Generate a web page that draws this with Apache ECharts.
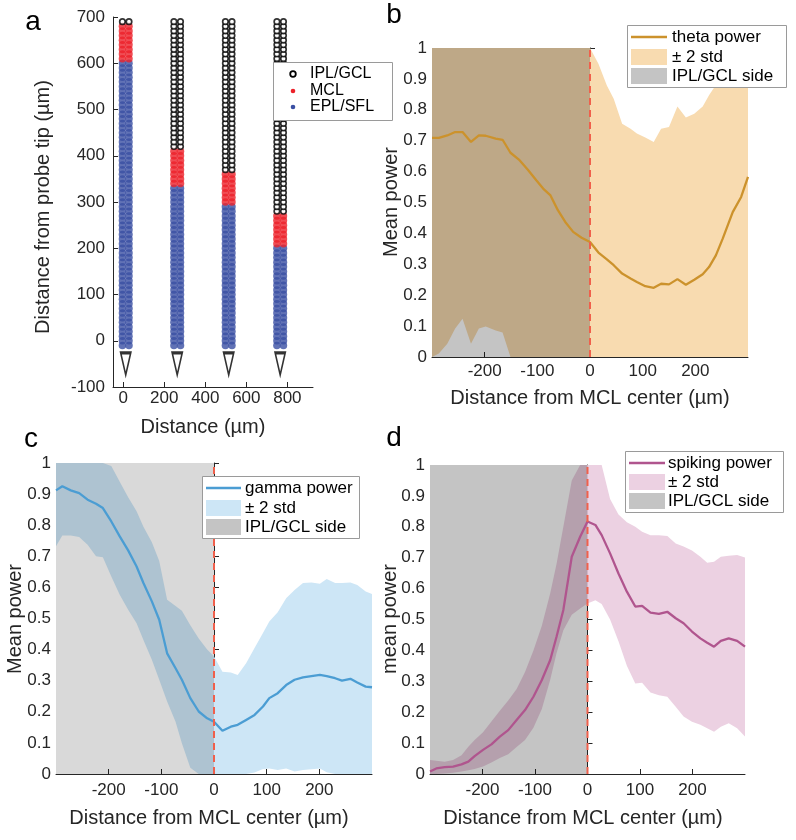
<!DOCTYPE html>
<html><head><meta charset="utf-8">
<script src="https://cdn.jsdelivr.net/npm/echarts@6/dist/echarts.min.js"></script>
<style>html,body{margin:0;padding:0;background:#fff}#c{width:796px;height:840px}</style>
</head><body><div id="c"></div><script>
const FONT = "'Liberation Sans', Arial, Helvetica, sans-serif";
const AX = '#262626';

// ---------- Panel a : probe layout ----------
const probeCenters = [12, 263, 514, 765];
const siteColumnOffsets = [-16, 16];
const siteDepths = [-10,0,10,20,30,40,50,60,70,80,90,100,110,120,130,140,150,160,170,180,190,200,210,220,230,240,250,260,270,280,290,300,310,320,330,340,350,360,370,380,390,400,410,420,430,440,450,460,470,480,490,500,510,520,530,540,550,560,570,580,590,600,610,620,630,640,650,660,670,680,690];
const mclLower = [610, 340, 300, 210];
const mclUpper = [680, 410, 360, 270];
const tipDepth = -50;
const aXTicks = [0, 200, 400, 600, 800];

// ---------- Panel b : theta ----------
const thetaX = [-300,-287,-271,-256,-242,-226,-211,-198,-179,-166,-151,-135,-118,-102,-89,-75,-61,-47,-32,-16,0,16,32,45,61,77,89,105,121,135,150,166,182,198,214,226,239,252,271,287,300];
const thetaMean = [0.709,0.709,0.717,0.728,0.728,0.696,0.717,0.716,0.707,0.703,0.661,0.639,0.606,0.572,0.545,0.523,0.475,0.437,0.405,0.386,0.372,0.338,0.316,0.297,0.270,0.254,0.243,0.229,0.224,0.237,0.235,0.252,0.234,0.250,0.268,0.291,0.329,0.383,0.469,0.518,0.583];
const thetaUpper = [1,1,1,1,1,1,1,1,1,1,1,1,1,1,1,1,1,1,1,1,1,0.949,0.879,0.836,0.755,0.739,0.723,0.710,0.696,0.739,0.744,0.811,0.775,0.787,0.811,0.847,0.88,0.95,1,1,1];
const thetaLower = [0,0.011,0.043,0.092,0.124,0.043,0.092,0.099,0.086,0.079,0,0,0,0,0,0,0,0,0,0,0,0,0,0,0,0,0,0,0,0,0,0,0,0,0,0,0,0,0,0,0];

// ---------- Panel c : gamma ----------
const gammaX = [-300,-288,-272,-256,-240,-224,-211,-195,-179,-163,-147,-134,-118,-104,-89,-73,-61,-45,-29,-13,0,16,32,45,61,77,93,105,121,137,153,169,185,201,214,230,243,259,272,288,300];
const gammaMean = [0.912,0.925,0.912,0.903,0.882,0.869,0.855,0.812,0.764,0.719,0.667,0.614,0.555,0.496,0.388,0.340,0.303,0.244,0.201,0.179,0.168,0.139,0.152,0.158,0.174,0.190,0.217,0.244,0.260,0.286,0.303,0.311,0.315,0.319,0.315,0.308,0.300,0.306,0.294,0.281,0.279];
const gammaUpper = [1,1,1,1,1,1,1,0.99,0.94,0.89,0.845,0.795,0.745,0.685,0.56,0.54,0.525,0.478,0.436,0.40,0.378,0.329,0.326,0.318,0.356,0.405,0.453,0.49,0.52,0.565,0.592,0.614,0.616,0.612,0.627,0.614,0.614,0.616,0.608,0.587,0.579];
const gammaLower = [0.732,0.767,0.767,0.762,0.737,0.70,0.697,0.635,0.576,0.528,0.485,0.431,0.367,0.303,0.233,0.168,0.099,0.02,0,0,0,0,0,0,0,0.005,0.016,0.018,0.013,0.018,0.008,0.013,0.015,0.018,0.006,0,0,0,0,0,0];

// ---------- Panel d : spiking ----------
const spikeX = [-300,-288,-272,-256,-240,-227,-215,-199,-183,-167,-151,-135,-119,-103,-87,-71,-59,-46,-30,-14,0,15,27,43,59,75,91,104,120,136,152,168,183,199,215,228,241,254,269,285,300];
const spikeMean = [0.008,0.018,0.022,0.024,0.031,0.040,0.058,0.078,0.096,0.121,0.142,0.175,0.207,0.250,0.304,0.369,0.444,0.531,0.703,0.768,0.817,0.806,0.773,0.714,0.649,0.590,0.542,0.544,0.522,0.518,0.525,0.504,0.488,0.461,0.439,0.425,0.412,0.431,0.439,0.431,0.412];
const spikeUpper = [0.045,0.043,0.040,0.045,0.061,0.088,0.11,0.135,0.17,0.205,0.238,0.275,0.33,0.40,0.48,0.585,0.68,0.80,0.95,1,1,1,1,0.89,0.84,0.815,0.80,0.784,0.773,0.773,0.77,0.746,0.736,0.723,0.703,0.684,0.687,0.703,0.706,0.709,0.701];
const spikeLower = [0,0,0.002,0.004,0.008,0.012,0.016,0.024,0.037,0.052,0.064,0.087,0.11,0.15,0.21,0.305,0.391,0.465,0.515,0.536,0.552,0.562,0.55,0.5,0.43,0.35,0.293,0.295,0.264,0.255,0.25,0.218,0.186,0.169,0.159,0.148,0.137,0.153,0.164,0.148,0.121];

const iplSide = [-300, 0];
const mclCenter = 0;
const distTicks = [-200, -100, 0, 100, 200];

// ---------- build ----------
const chart = echarts.init(document.getElementById('c'), null, {renderer: 'canvas', width: 796, height: 840});

const grids = [
  {left: 113, top: 17, width: 200, height: 370},
  {left: 432, top: 48, width: 316, height: 309},
  {left: 56, top: 463, width: 316, height: 311},
  {left: 430, top: 465, width: 315, height: 309}
];

function yAxisPow(gi) {
  return {gridIndex: gi, type: 'value', min: 0, max: 1, interval: 0.1,
    axisLine: {show: true, lineStyle: {color: AX, width: 1}},
    axisTick: {show: true, inside: true, length: 5, lineStyle: {color: AX}},
    splitLine: {show: false},
    axisLabel: {color: AX, fontFamily: FONT, fontSize: 17, margin: 5,
      formatter: v => String(+(+v).toFixed(1))}};
}
function xAxisDist(gi, margin) {
  return {gridIndex: gi, type: 'value', min: -300, max: 300,
    axisLine: {show: true, onZero: false, lineStyle: {color: AX, width: 1}},
    axisTick: {show: true, inside: true, length: 5, customValues: distTicks, lineStyle: {color: AX}},
    splitLine: {show: false},
    axisLabel: {color: AX, fontFamily: FONT, fontSize: 17, margin: margin, customValues: distTicks}};
}

const xAxes = [
  {gridIndex: 0, type: 'value', min: -50, max: 925,
    axisLine: {show: true, onZero: false, lineStyle: {color: AX, width: 1}},
    axisTick: {show: true, inside: true, length: 5, customValues: aXTicks, lineStyle: {color: AX}},
    splitLine: {show: false},
    axisLabel: {color: AX, fontFamily: FONT, fontSize: 17, margin: 3, customValues: aXTicks}},
  xAxisDist(1, 6), xAxisDist(2, 8), xAxisDist(3, 8)
];
const yAxes = [
  {gridIndex: 0, type: 'value', min: -100, max: 700, interval: 100,
    axisLine: {show: true, onZero: false, lineStyle: {color: AX, width: 1}},
    axisTick: {show: true, inside: true, length: 5, lineStyle: {color: AX}},
    splitLine: {show: false},
    axisLabel: {color: AX, fontFamily: FONT, fontSize: 17, margin: 8}},
  yAxisPow(1), yAxisPow(2), yAxisPow(3)
];

// probe sites
const iplPts = [], mclPts = [], eplPts = [];
probeCenters.forEach((cx, p) => {
  siteDepths.forEach(d => {
    siteColumnOffsets.forEach(off => {
      const pt = [cx + off, d];
      if (d > mclUpper[p]) iplPts.push(pt);
      else if (d >= mclLower[p]) mclPts.push(pt);
      else eplPts.push(pt);
    });
  });
});

const series = [
  {type: 'scatter', xAxisIndex: 0, yAxisIndex: 0, data: eplPts, symbol: 'circle', symbolSize: 7.5,
    itemStyle: {color: '#3a4fa3'}, silent: true, z: 2},
  {type: 'scatter', xAxisIndex: 0, yAxisIndex: 0, data: mclPts, symbol: 'circle', symbolSize: 7.5,
    itemStyle: {color: '#ec2129'}, silent: true, z: 2},
  {type: 'scatter', xAxisIndex: 0, yAxisIndex: 0, data: iplPts, symbol: 'circle', symbolSize: 5.5,
    itemStyle: {color: '#ffffff', borderColor: '#000', borderWidth: 1.7}, silent: true, z: 2},
  {type: 'scatter', xAxisIndex: 0, yAxisIndex: 0, data: probeCenters.map(c => [c, tipDepth]),
    symbol: 'triangle', symbolRotate: 180, symbolSize: [10, 22],
    itemStyle: {color: '#ffffff', borderColor: '#000', borderWidth: 2.2}, silent: true, z: 2}
];

function band(gi, xs, lo, hi, color) {
  return {type: 'custom', xAxisIndex: gi, yAxisIndex: gi, silent: true, z: 1,
    data: [[xs[0], lo[0]]],
    renderItem: (params, api) => {
      const pts = [];
      for (let i = 0; i < xs.length; i++) pts.push(api.coord([xs[i], hi[i]]));
      for (let i = xs.length - 1; i >= 0; i--) pts.push(api.coord([xs[i], lo[i]]));
      return {type: 'polygon', shape: {points: pts}, style: {fill: color}};
    }};
}
function patch(gi, alpha) {
  return {type: 'custom', xAxisIndex: gi, yAxisIndex: gi, silent: true, z: 2,
    data: [[iplSide[0], 0]],
    renderItem: (params, api) => {
      const a = api.coord([iplSide[0], 1]);
      const b = api.coord([iplSide[1], 0]);
      return {type: 'rect', shape: {x: a[0], y: a[1], width: b[0] - a[0], height: b[1] - a[1]},
        style: {fill: 'rgba(0,0,0,' + alpha + ')'}};
    }};
}
function meanLine(gi, xs, ys, color) {
  return {type: 'line', xAxisIndex: gi, yAxisIndex: gi, silent: true, z: 3,
    data: xs.map((x, i) => [x, ys[i]]), showSymbol: false, symbol: 'none',
    lineStyle: {color: color, width: 2.3}};
}
function centerLine(gi) {
  return {type: 'line', xAxisIndex: gi, yAxisIndex: gi, silent: true, z: 4,
    data: [[mclCenter, 0], [mclCenter, 1]], showSymbol: false, symbol: 'none',
    lineStyle: {color: '#f0604c', width: 2, type: [7, 5]}};
}

series.push(
  band(1, thetaX, thetaLower, thetaUpper, '#f8dbb0'), patch(1, 0.23), meanLine(1, thetaX, thetaMean, '#cc922c'), centerLine(1),
  band(2, gammaX, gammaLower, gammaUpper, '#cde6f6'), patch(2, 0.15), meanLine(2, gammaX, gammaMean, '#4b9dd3'), centerLine(2),
  band(3, spikeX, spikeLower, spikeUpper, '#ecd1e2'), patch(3, 0.23), meanLine(3, spikeX, spikeMean, '#b0558e'), centerLine(3)
);

// ---------- text & legends ----------
const g = [];
function txt(t, x, y, size, opts) {
  g.push(Object.assign({type: 'text', x: x, y: y, z: 100,
    style: {text: t, fill: AX, font: size + 'px ' + FONT, align: 'center', verticalAlign: 'middle'}}, opts || {}));
}
function vtxt(t, x, y, size) {
  g.push({type: 'text', x: x, y: y, rotation: Math.PI / 2, z: 100,
    style: {text: t, fill: AX, font: size + 'px ' + FONT, align: 'center', verticalAlign: 'middle'}});
}
// panel letters
[['a', 33, 22], ['b', 394, 15], ['c', 31, 439], ['d', 394, 438]].forEach(l =>
  g.push({type: 'text', x: l[1], y: l[2], z: 100,
    style: {text: l[0], fill: '#000', font: '28px ' + FONT, align: 'center', verticalAlign: 'middle'}}));
// axis titles
txt('Distance (\u00b5m)', 203, 427, 20);
vtxt('Distance from probe tip (\u00b5m)', 43, 207, 20);
txt('Distance from MCL center (\u00b5m)', 590, 398, 20);
vtxt('Mean power', 391, 202, 20);
txt('Distance from MCL center (\u00b5m)', 209, 818, 20);
vtxt('Mean power', 15, 619, 20);
txt('Distance from MCL center (\u00b5m)', 583, 818, 20);
vtxt('mean power', 390, 619, 20);

function legendBox(x, y, w, h) {
  g.push({type: 'rect', z: 90, shape: {x: x + 0.5, y: y + 0.5, width: w, height: h},
    style: {fill: '#fff', stroke: '#9a9a9a', lineWidth: 1}});
}
function legText(t, x, y, size) {
  g.push({type: 'text', x: x, y: y, z: 100,
    style: {text: t, fill: '#000', font: size + 'px ' + FONT, align: 'left', verticalAlign: 'middle'}});
}
function powerLegend(x, y, w, h, rows, textX, swX0, swX1, lineColor, bandColor, names) {
  legendBox(x, y, w, h);
  g.push({type: 'line', z: 95, shape: {x1: swX0, y1: rows[0], x2: swX1, y2: rows[0]},
    style: {stroke: lineColor, lineWidth: 2.3}});
  g.push({type: 'rect', z: 95, shape: {x: swX0, y: rows[1] - 8, width: swX1 - swX0, height: 16}, style: {fill: bandColor}});
  g.push({type: 'rect', z: 95, shape: {x: swX0, y: rows[2] - 8, width: swX1 - swX0, height: 16}, style: {fill: '#c4c4c4'}});
  names.forEach((n, i) => legText(n, textX, rows[i], 17));
}
// legend a
legendBox(273, 62, 119, 58);
g.push({type: 'circle', z: 95, shape: {cx: 293, cy: 74, r: 2.8}, style: {fill: '#fff', stroke: '#000', lineWidth: 1.8}});
g.push({type: 'circle', z: 95, shape: {cx: 293, cy: 91, r: 2.3}, style: {fill: '#ec2129'}});
g.push({type: 'circle', z: 95, shape: {cx: 293, cy: 107, r: 2.3}, style: {fill: '#3a4fa3'}});
legText('IPL/GCL', 310, 74, 16);
legText('MCL', 310, 91, 16);
legText('EPL/SFL', 310, 107, 16);

powerLegend(627, 25, 159, 62, [37, 57, 76], 672, 631, 667, '#cc922c', '#f8dbb0', ['theta power', '\u00b1 2 std', 'IPL/GCL side']);
powerLegend(202, 476, 157, 62, [488, 508, 527], 245, 206, 241, '#4b9dd3', '#cde6f6', ['gamma power', '\u00b1 2 std', 'IPL/GCL side']);
powerLegend(625, 451, 158, 61, [463, 482, 501], 668, 629, 665, '#b0558e', '#ecd1e2', ['spiking power', '\u00b1 2 std', 'IPL/GCL side']);

chart.setOption({
  animation: false,
  backgroundColor: '#fff',
  textStyle: {fontFamily: FONT},
  grid: grids,
  xAxis: xAxes,
  yAxis: yAxes,
  series: series,
  graphic: {elements: g}
});
</script></body></html>
